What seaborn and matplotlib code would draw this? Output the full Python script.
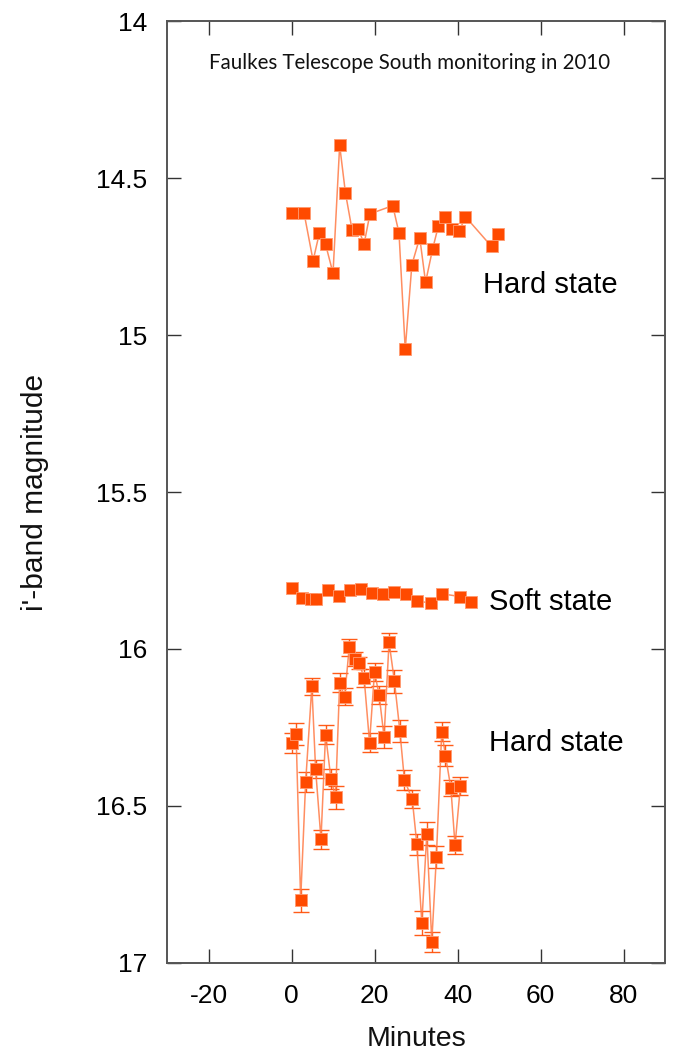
import numpy as np
import pandas as pd
import matplotlib
matplotlib.use("Agg")
import matplotlib.pyplot as plt
import seaborn as sns

# Hard state, first epoch (minutes, i'-band magnitude)
hard1_t = [0.0, 3.0, 5.2, 6.7, 8.2, 10.0, 11.6, 13.0, 14.6, 16.1, 17.5, 18.9, 24.4,
           25.9, 27.4, 29.0, 30.9, 32.3, 34.0, 35.4, 36.9, 38.6, 40.4, 41.9, 48.2, 49.7]
hard1_mag = [14.610, 14.610, 14.763, 14.676, 14.711, 14.803, 14.396, 14.548, 14.666,
             14.663, 14.709, 14.614, 14.588, 14.675, 15.046, 14.776, 14.690, 14.832,
             14.726, 14.652, 14.625, 14.662, 14.670, 14.623, 14.718, 14.679]

# Soft state
soft_t = [0.0, 2.6, 4.6, 6.0, 8.8, 11.5, 14.0, 16.7, 19.5, 22.0, 24.8, 27.6, 30.3,
          33.6, 36.2, 40.6, 43.2]
soft_mag = [15.805, 15.836, 15.841, 15.840, 15.812, 15.830, 15.812, 15.810, 15.821,
            15.824, 15.818, 15.825, 15.848, 15.853, 15.824, 15.833, 15.850]

# Hard state, second epoch, with photometric errors
hard2_t = [0.0, 1.1, 2.2, 3.4, 4.9, 5.8, 7.1, 8.2, 9.5, 10.6, 11.6, 12.8, 13.9, 15.2,
           16.3, 17.5, 18.8, 20.0, 21.1, 22.3, 23.5, 24.8, 26.1, 27.2, 29.1, 30.2,
           31.4, 32.6, 33.8, 34.9, 36.2, 37.1, 38.4, 39.4, 40.7]
hard2_mag = [16.298, 16.271, 16.800, 16.425, 16.118, 16.382, 16.606, 16.273, 16.413,
             16.472, 16.107, 16.152, 15.995, 16.032, 16.044, 16.093, 16.298, 16.073,
             16.146, 16.280, 15.978, 16.103, 16.260, 16.417, 16.479, 16.622, 16.873,
             16.588, 16.933, 16.663, 16.263, 16.340, 16.443, 16.625, 16.436]
hard2_err = [0.032, 0.034, 0.037, 0.032, 0.027, 0.029, 0.030, 0.030, 0.032, 0.037,
             0.031, 0.027, 0.027, 0.022, 0.020, 0.029, 0.029, 0.029, 0.029, 0.034,
             0.028, 0.037, 0.035, 0.031, 0.029, 0.034, 0.038, 0.036, 0.033, 0.035,
             0.030, 0.034, 0.026, 0.028, 0.029]

x_ticks = [-20, 0, 20, 40, 60, 80]
y_ticks = [14, 14.5, 15, 15.5, 16, 16.5, 17]
y_tick_labels = ["14", "14.5", "15", "15.5", "16", "16.5", "17"]

title_text = "Faulkes Telescope South monitoring in 2010"
state_labels = [("Hard state", 46.1, 14.84), ("Soft state", 47.5, 15.85),
                ("Hard state", 47.5, 16.30)]

sns.set_theme(style="ticks")
plt.rcParams["font.family"] = ["Liberation Sans", "DejaVu Sans"]

MARK = "#FF4A00"
LINE = "#FF7A45"

fig = plt.figure(figsize=(6.82, 10.53), dpi=100)
ax = fig.add_axes([0.2449, 0.0855, 0.7302, 0.8945])

groups = [
    pd.DataFrame({"t": hard1_t, "mag": hard1_mag}),
    pd.DataFrame({"t": soft_t, "mag": soft_mag}),
    pd.DataFrame({"t": hard2_t, "mag": hard2_mag, "err": hard2_err}),
]

# error bars for the second hard-state run
g = groups[2]
ax.errorbar(g["t"], g["mag"], yerr=g["err"], fmt="none", ecolor=MARK,
            elinewidth=1.0, capsize=5.5, capthick=1.0, alpha=0.9, zorder=2)

for df in groups:
    sns.lineplot(data=df, x="t", y="mag", sort=False, estimator=None, ax=ax,
                 color=LINE, linewidth=1.1, alpha=0.85, zorder=3)
    sns.scatterplot(data=df, x="t", y="mag", marker="s", s=66, color=MARK,
                    edgecolor="#FF9A70", linewidth=0.6, ax=ax, zorder=4)

ax.set_xlim(-30, 90)
ax.set_ylim(17, 14)
ax.set_xticks(x_ticks)
ax.set_xticklabels([str(v) for v in x_ticks])
ax.set_yticks(y_ticks)
ax.set_yticklabels(y_tick_labels)

ax.tick_params(direction="in", length=10, width=1.0, color="#333333",
               top=True, right=True, labelsize=19, labelcolor="black")
ax.tick_params(axis="y", pad=14)
ax.tick_params(axis="x", pad=15)
for sp in ax.spines.values():
    sp.set_visible(True)
    sp.set_color("#555555")
    sp.set_linewidth(1.4)

ax.set_xlabel("Minutes", fontsize=20.5, labelpad=13, color="#111111")
ax.set_ylabel("i'-band magnitude", fontsize=21.5, labelpad=34, color="#111111")

ax.text(0.488, 0.956, title_text, transform=ax.transAxes, ha="center",
        va="center", fontsize=14.8, family=["Lato", "DejaVu Sans"],
        color="#111111")

for label, tx, ty in state_labels:
    ax.text(tx, ty, label, ha="left", va="center", fontsize=21, color="black")

fig.savefig("out.png", dpi=100)
